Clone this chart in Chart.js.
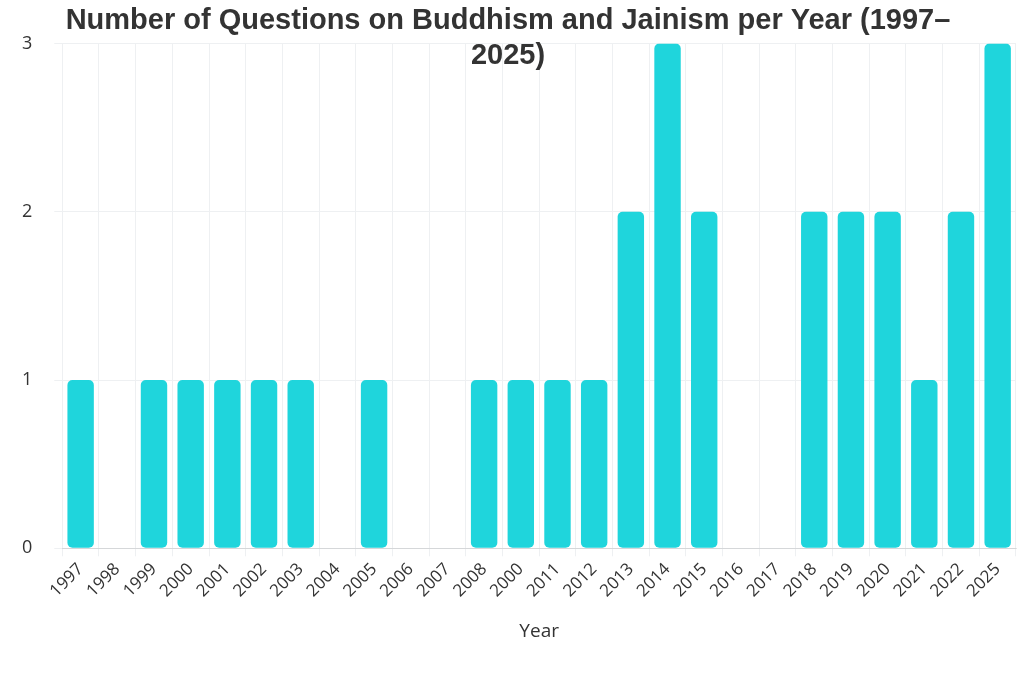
<!DOCTYPE html>
<html>
<head>
<meta charset="utf-8">
<script src="https://cdn.jsdelivr.net/npm/chart.js@4"></script>
<style>
  body { margin: 0; background: #fff; }
  #wrap { width: 1024px; height: 683px; }
</style>
</head>
<body>
<div id="wrap"><canvas id="qChart"></canvas></div>
<script>
const years = ['1997', '1998', '1999', '2000', '2001', '2002', '2003', '2004', '2005', '2006', '2007', '2008', '2000',
    '2011', '2012', '2013', '2014', '2015', '2016', '2017', '2018', '2019', '2020', '2021', '2022', '2025'];
const questions = [1, 0, 1, 1, 1, 1, 1, 0, 1, 0, 0, 1, 1, 1, 1, 2, 3, 2, 0, 0, 2, 2, 2, 1, 2, 3];
const yTicks = [0, 1, 2, 3];

const ctx = document.getElementById('qChart').getContext('2d');
new Chart(ctx, {
    type: 'bar',
    data: {
        labels: years,
        datasets: [{
            label: 'Questions',
            data: questions,
            backgroundColor: '#1fd5dc',
            borderRadius: 5,
            borderSkipped: false,
            categoryPercentage: 1,
            barPercentage: 0.72
        }]
    },
    options: {
        responsive: true,
        maintainAspectRatio: false,
        animation: false,
        layout: { padding: { left: 0, right: 8, top: 0, bottom: 36 } },
        plugins: {
            legend: { display: false },
            title: {
                display: true,
                text: ['Number of Questions on Buddhism and Jainism per Year (1997–', '2025)'],
                color: '#333',
                font: { family: 'Liberation Sans, Arial', size: 29, weight: 'bold' },
                lineHeight: 1.6,
                padding: { top: 4, bottom: -30 }
            }
        },
        scales: {
            x: {
                grid: { color: '#eef0f2' },
                ticks: {
                    color: '#333',
                    font: { family: 'Open Sans', size: 17 },
                    maxRotation: 45,
                    minRotation: 45
                },
                title: {
                    display: true,
                    text: 'Year',
                    color: '#333',
                    font: { family: 'Open Sans', size: 19 },
                    padding: { top: 16 }
                }
            },
            y: {
                min: 0,
                max: 3,
                afterBuildTicks: axis => { axis.ticks = yTicks.map(v => ({ value: v })); },
                grid: { color: '#eef0f2' },
                border: { display: false },
                ticks: {
                    color: '#333',
                    font: { family: 'Open Sans', size: 18 },
                    padding: 22
                }
            }
        }
    }
});
</script>
</body>
</html>
